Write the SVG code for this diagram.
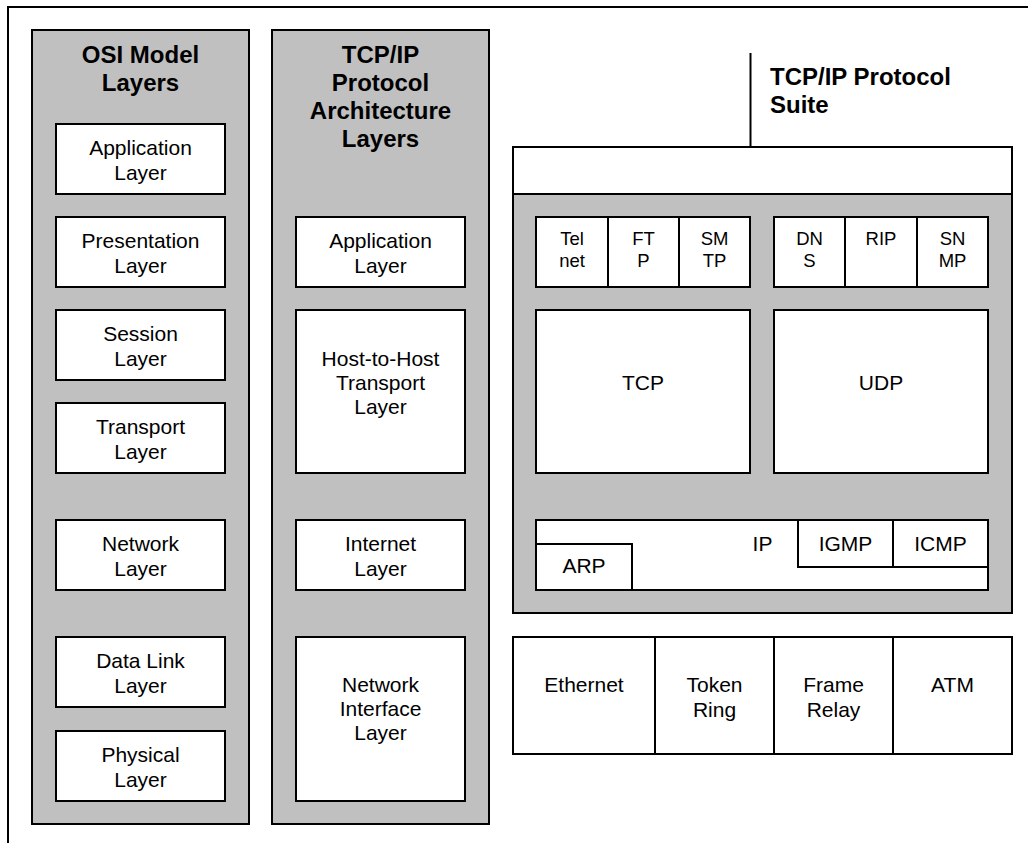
<svg xmlns="http://www.w3.org/2000/svg" width="1028" height="843" viewBox="0 0 1028 843">
<style>
.panel{fill:#c0c0c0;stroke:#000;stroke-width:2}
.box{fill:#fff;stroke:#000;stroke-width:2}
.ln{fill:none;stroke:#000;stroke-width:2}
text{font-family:"Liberation Sans",Arial,sans-serif;fill:#000;text-anchor:middle}
.t{font-size:24px;font-weight:bold}
.l{font-size:21px}
.s{font-size:18.5px}
</style>
<rect width="1028" height="843" fill="#fff"/>
<path class="ln" d="M8,843 V7 H1028"/>

<g id="osi">
<rect class="panel" x="32" y="30" width="217" height="794"/>
<text class="t" x="140.5" y="63">OSI Model</text>
<text class="t" x="140.5" y="91">Layers</text>
</g>
<g id="osi-app"><rect class="box" x="56" y="124" width="169" height="70"/><text class="l" x="140.5" y="155">Application</text><text class="l" x="140.5" y="180">Layer</text></g>
<g id="osi-pres"><rect class="box" x="56" y="217" width="169" height="70"/><text class="l" x="140.5" y="248">Presentation</text><text class="l" x="140.5" y="273">Layer</text></g>
<g id="osi-sess"><rect class="box" x="56" y="310" width="169" height="70"/><text class="l" x="140.5" y="341">Session</text><text class="l" x="140.5" y="366">Layer</text></g>
<g id="osi-trans"><rect class="box" x="56" y="403" width="169" height="70"/><text class="l" x="140.5" y="434">Transport</text><text class="l" x="140.5" y="459">Layer</text></g>
<g id="osi-net"><rect class="box" x="56" y="520" width="169" height="70"/><text class="l" x="140.5" y="551">Network</text><text class="l" x="140.5" y="576">Layer</text></g>
<g id="osi-dl"><rect class="box" x="56" y="637" width="169" height="70"/><text class="l" x="140.5" y="668">Data Link</text><text class="l" x="140.5" y="693">Layer</text></g>
<g id="osi-phy"><rect class="box" x="56" y="731" width="169" height="70"/><text class="l" x="140.5" y="762">Physical</text><text class="l" x="140.5" y="787">Layer</text></g>

<g id="tcpip">
<rect class="panel" x="272" y="30" width="217" height="794"/>
<text class="t" x="380.5" y="63">TCP/IP</text>
<text class="t" x="380.5" y="91">Protocol</text>
<text class="t" x="380.5" y="119">Architecture</text>
<text class="t" x="380.5" y="147">Layers</text>
</g>
<g id="tcp-app"><rect class="box" x="296" y="217" width="169" height="70"/><text class="l" x="380.5" y="248">Application</text><text class="l" x="380.5" y="273">Layer</text></g>
<g id="tcp-h2h"><rect class="box" x="296" y="310" width="169" height="163"/><text class="l" x="380.5" y="366">Host-to-Host</text><text class="l" x="380.5" y="390">Transport</text><text class="l" x="380.5" y="414">Layer</text></g>
<g id="tcp-inet"><rect class="box" x="296" y="520" width="169" height="70"/><text class="l" x="380.5" y="551">Internet</text><text class="l" x="380.5" y="576">Layer</text></g>
<g id="tcp-ni"><rect class="box" x="296" y="637" width="169" height="164"/><text class="l" x="380.5" y="692">Network</text><text class="l" x="380.5" y="716">Interface</text><text class="l" x="380.5" y="740">Layer</text></g>

<g id="suite">
<rect class="panel" x="513" y="147" width="499" height="466"/>
<rect class="box" x="513" y="147" width="499" height="47"/>
<text class="t" x="770" y="85" style="text-anchor:start">TCP/IP Protocol</text>
<text class="t" x="770" y="112.5" style="text-anchor:start">Suite</text>
</g>
<g id="connectors">
<line class="ln" x1="750.5" y1="53" x2="750.5" y2="147"/>
</g>

<g id="telnet"><rect class="box" x="536" y="217" width="72" height="70"/><text class="s" x="572" y="245">Tel</text><text class="s" x="572" y="266.5">net</text></g>
<g id="ftp"><rect class="box" x="608" y="217" width="71" height="70"/><text class="s" x="643.5" y="245">FT</text><text class="s" x="643.5" y="266.5">P</text></g>
<g id="smtp"><rect class="box" x="679" y="217" width="71" height="70"/><text class="s" x="714.5" y="245">SM</text><text class="s" x="714.5" y="266.5">TP</text></g>
<g id="dns"><rect class="box" x="774" y="217" width="71" height="70"/><text class="s" x="809.5" y="245">DN</text><text class="s" x="809.5" y="266.5">S</text></g>
<g id="rip"><rect class="box" x="845" y="217" width="72" height="70"/><text class="s" x="881" y="245">RIP</text></g>
<g id="snmp"><rect class="box" x="917" y="217" width="71" height="70"/><text class="s" x="952.5" y="245">SN</text><text class="s" x="952.5" y="266.5">MP</text></g>

<g id="tcp"><rect class="box" x="536" y="310" width="214" height="163"/><text class="l" x="643" y="390">TCP</text></g>
<g id="udp"><rect class="box" x="774" y="310" width="214" height="163"/><text class="l" x="881" y="390">UDP</text></g>

<g id="ip"><rect class="box" x="536" y="520" width="452" height="70"/><text class="l" x="762.5" y="551">IP</text></g>
<g id="arp"><rect class="box" x="536" y="544" width="96" height="46"/><text class="l" x="584" y="573">ARP</text></g>
<g id="igmp"><rect class="box" x="798" y="520" width="95" height="47"/><text class="l" x="845.5" y="551">IGMP</text></g>
<g id="icmp"><rect class="box" x="893" y="520" width="95" height="47"/><text class="l" x="940.5" y="551">ICMP</text></g>

<g id="ethernet"><rect class="box" x="513" y="637" width="142" height="117"/><text class="l" x="584" y="692">Ethernet</text></g>
<g id="tokenring"><rect class="box" x="655" y="637" width="119" height="117"/><text class="l" x="714.5" y="692">Token</text><text class="l" x="714.5" y="717">Ring</text></g>
<g id="framerelay"><rect class="box" x="774" y="637" width="119" height="117"/><text class="l" x="833.5" y="692">Frame</text><text class="l" x="833.5" y="717">Relay</text></g>
<g id="atm"><rect class="box" x="893" y="637" width="119" height="117"/><text class="l" x="952.5" y="692">ATM</text></g>
</svg>
